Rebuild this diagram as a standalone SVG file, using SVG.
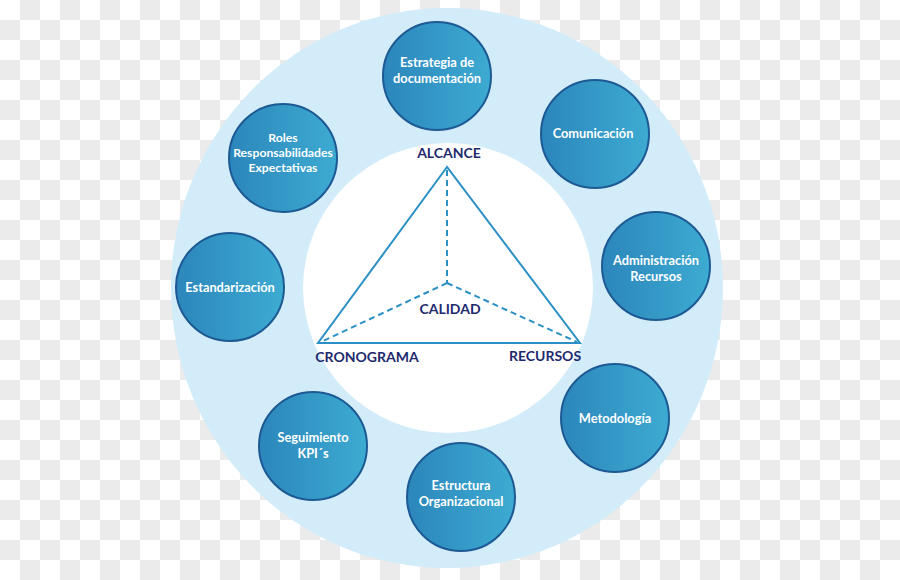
<svg xmlns="http://www.w3.org/2000/svg" width="900" height="580" viewBox="0 0 900 580">
<defs>
<pattern id="checker" width="40" height="40" patternUnits="userSpaceOnUse">
<rect width="40" height="40" fill="#ffffff"/>
<rect x="20" y="0" width="20" height="20" fill="#ebebeb"/>
<rect x="0" y="20" width="20" height="20" fill="#ebebeb"/>
</pattern>
<linearGradient id="nodeGrad" x1="0" y1="0" x2="1" y2="0">
<stop offset="0" stop-color="#2c86bb"/>
<stop offset="1" stop-color="#3dabd2"/>
</linearGradient>
<style>
.node circle{fill:url(#nodeGrad);stroke:#1d5a94;stroke-width:2}
.node text{font-family:Lato,"Open Sans","Liberation Sans",sans-serif;font-weight:bold;font-size:12.8px;fill:#ffffff;text-anchor:middle}
.node text.sm{font-size:12.2px}
.lbl{font-family:Lato,"Open Sans","Liberation Sans",sans-serif;font-weight:bold;font-size:14px;fill:#1e2a6e;text-anchor:middle}
.tri{fill:none;stroke:#2a90c5;stroke-width:2}
.dash{fill:none;stroke:#2a90c5;stroke-width:2;stroke-dasharray:6 4}
</style>
</defs>
<rect width="900" height="580" fill="url(#checker)"/>
<ellipse cx="447" cy="288" rx="276" ry="280" fill="#d2ecf9"/>
<circle cx="448" cy="288" r="145" fill="#ffffff"/>

<g id="connectors">
<polygon class="tri" points="447,167 318,343 580,343"/>
<path class="dash" d="M447,170 L447,283 M447,283 L321,342 M447,283 L577,342"/>
</g>

<g id="triangle-labels">
<text class="lbl" x="449" y="158">ALCANCE</text>
<text class="lbl" x="450" y="314">CALIDAD</text>
<text class="lbl" x="367" y="362">CRONOGRAMA</text>
<text class="lbl" x="545" y="361">RECURSOS</text>
</g>

<g id="n-estrategia" class="node"><circle cx="437" cy="76" r="54"/><text x="437" y="67">Estrategia de</text><text x="437" y="83">documentación</text></g>
<g id="n-comunicacion" class="node"><circle cx="595" cy="134" r="54"/><text x="593" y="138">Comunicación</text></g>
<g id="n-administracion" class="node"><circle cx="656" cy="266" r="54"/><text x="656" y="265">Administración</text><text x="656" y="281">Recursos</text></g>
<g id="n-metodologia" class="node"><circle cx="615" cy="418" r="54"/><text x="615" y="423">Metodología</text></g>
<g id="n-estructura" class="node"><circle cx="461" cy="497" r="54"/><text x="461" y="490">Estructura</text><text x="461" y="506">Organizacional</text></g>
<g id="n-seguimiento" class="node"><circle cx="313" cy="446" r="54"/><text x="313" y="442">Seguimiento</text><text x="313" y="458">KPI´s</text></g>
<g id="n-estandarizacion" class="node"><circle cx="230" cy="287" r="54"/><text x="230" y="292">Estandarización</text></g>
<g id="n-roles" class="node"><circle cx="283" cy="158" r="54"/><text class="sm" x="283" y="142">Roles</text><text class="sm" x="283" y="157">Responsabilidades</text><text class="sm" x="283" y="172">Expectativas</text></g>
</svg>
